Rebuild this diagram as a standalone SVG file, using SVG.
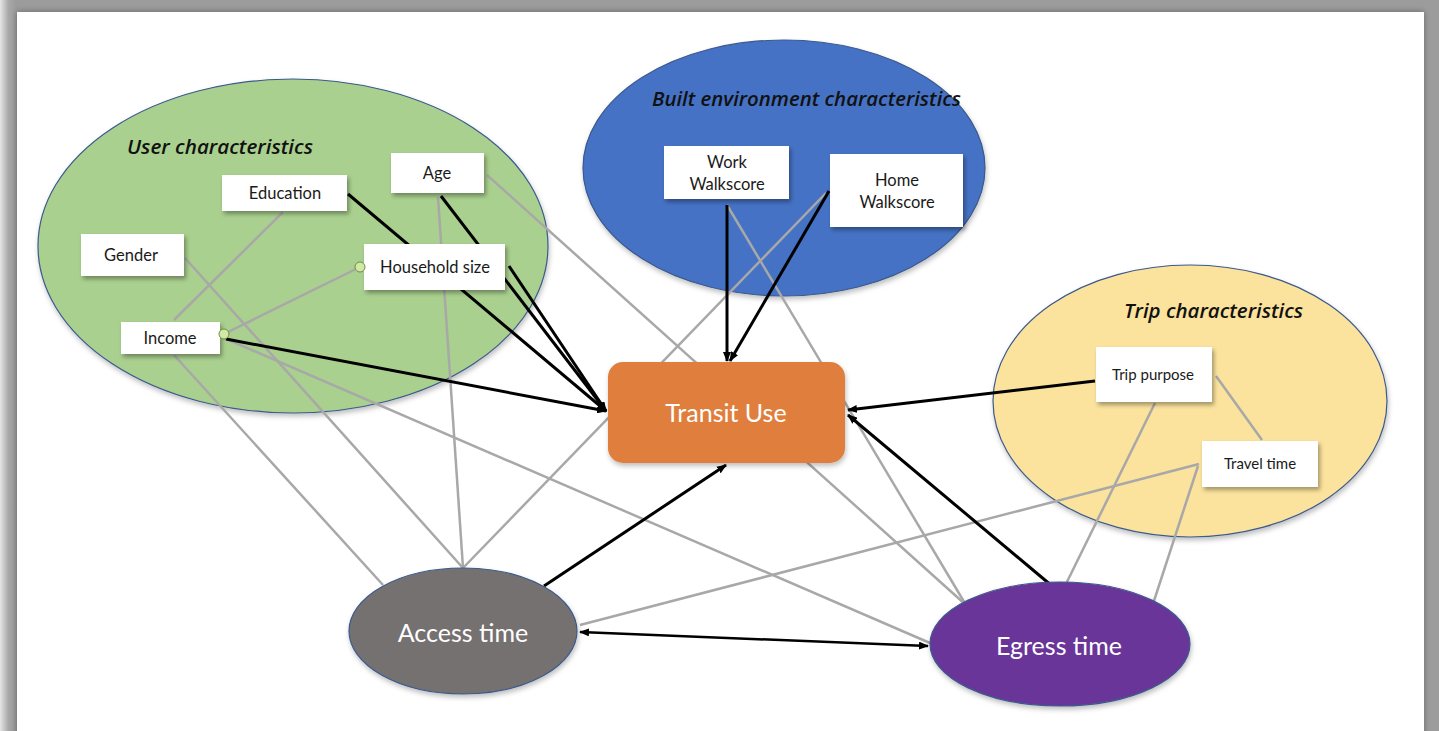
<svg xmlns="http://www.w3.org/2000/svg" width="1439" height="731" viewBox="0 0 1439 731">
  <defs>
    <linearGradient id="edgeL" x1="0" x2="1" y1="0" y2="0">
      <stop offset="0" stop-color="#e6e6e6"/>
      <stop offset="0.5" stop-color="#a8a8a8"/>
      <stop offset="1" stop-color="#9a9a9a"/>
    </linearGradient>
    <filter id="shadow" x="-20%" y="-20%" width="150%" height="160%">
      <feDropShadow dx="2" dy="3" stdDeviation="2" flood-color="#000" flood-opacity="0.35"/>
    </filter>
    <filter id="softShadow" x="-10%" y="-10%" width="120%" height="130%">
      <feDropShadow dx="1" dy="3" stdDeviation="2.5" flood-color="#000" flood-opacity="0.25"/>
    </filter>
    <filter id="frameShadow" x="-5%" y="-5%" width="110%" height="110%">
      <feGaussianBlur stdDeviation="3"/>
    </filter>
    <marker id="arrow" viewBox="0 0 10 8" refX="9" refY="4" markerWidth="10" markerHeight="8" markerUnits="userSpaceOnUse" orient="auto-start-reverse">
      <path d="M0,0 L10,4 L0,8 Z" fill="#000"/>
    </marker>
    <style>
      .group { stroke: #3b5a8c; stroke-width: 1.2; filter: url(#softShadow); }
      .title { font-family: "Open Sans", "Noto Sans", sans-serif; font-style: italic; font-weight: 600; font-size: 20px; fill: #111; }
      .box rect { fill: #ffffff; filter: url(#shadow); }
      .box text { font-family: Lato, "Noto Sans", sans-serif; font-size: 16.5px; fill: #1a1a1a; text-anchor: middle; dominant-baseline: central; }
      .box text.sm { font-size: 15px; }
      .big text { font-family: Lato, "Noto Sans", sans-serif; font-size: 25px; fill: #ffffff; text-anchor: middle; dominant-baseline: central; }
      .gray { stroke: #a8a8a8; stroke-width: 2.5; fill: none; }
      .dir { stroke: #000; stroke-width: 3; fill: none; marker-end: url(#arrow); }
      .both { marker-start: url(#arrow); stroke-width: 2.5; }
      .dot { fill: #d2e8a9; stroke: #6f8f3c; stroke-width: 1; }
    </style>
  </defs>

  <!-- page frame -->
  <rect x="0" y="0" width="1439" height="731" fill="#9c9c9c"/>
  <rect x="0" y="0" width="17" height="731" fill="url(#edgeL)"/>
  <rect x="17" y="12" width="1407" height="740" fill="#000" opacity="0.35" filter="url(#frameShadow)"/>
  <rect x="17" y="12" width="1407" height="740" fill="#ffffff"/>

  <!-- characteristic groups -->
  <g id="user-characteristics">
    <ellipse class="group" cx="293" cy="246" rx="255" ry="167" fill="#a9d08e"/>
    <text class="title" x="127" y="154" textLength="186" lengthAdjust="spacingAndGlyphs">User characteristics</text>
  </g>
  <g id="built-environment">
    <ellipse class="group" cx="784" cy="168" rx="201" ry="128" fill="#4472c4"/>
    <text class="title" x="652" y="106" textLength="309" lengthAdjust="spacingAndGlyphs">Built environment characteristics</text>
  </g>
  <g id="trip-characteristics">
    <ellipse class="group" cx="1190" cy="401" rx="197" ry="136" fill="#fbe29d"/>
    <text class="title" x="1124" y="318" textLength="179" lengthAdjust="spacingAndGlyphs">Trip characteristics</text>
  </g>

  <!-- connectors -->
  <g id="connectors">
    <!-- correlations -->
    <line class="gray" x1="283" y1="212" x2="174" y2="320"/>
    <line class="gray" x1="224" y1="334" x2="360" y2="267"/>
    <line class="gray" x1="185" y1="258" x2="463" y2="568"/>
    <line class="gray" x1="438" y1="197" x2="463" y2="568"/>
    <line class="gray" x1="174" y1="355" x2="383" y2="585"/>
    <line class="gray" x1="224" y1="338" x2="930" y2="643"/>
    <line class="gray" x1="487" y1="175" x2="966" y2="605"/>
    <line class="gray" x1="727" y1="205" x2="966" y2="605"/>
    <line class="gray" x1="826" y1="193" x2="463" y2="568"/>
    <line class="gray" x1="1155" y1="403" x2="1062" y2="592"/>
    <line class="gray" x1="1216" y1="376" x2="1262" y2="440"/>
    <line class="gray" x1="1199" y1="464" x2="580" y2="625"/>
    <line class="gray" x1="1198" y1="466" x2="1152" y2="607"/>
    <!-- direct effects -->
    <line class="dir" x1="226" y1="339" x2="606" y2="411"/>
    <line class="dir" x1="348" y1="194" x2="606" y2="411"/>
    <line class="dir" x1="441" y1="196" x2="606" y2="411"/>
    <line class="dir" x1="509" y1="266" x2="606" y2="411"/>
    <line class="dir" x1="727" y1="205" x2="727" y2="361"/>
    <line class="dir" x1="829" y1="191" x2="730" y2="361"/>
    <line class="dir" x1="1095" y1="381" x2="848" y2="410"/>
    <line class="dir" x1="1058" y1="591" x2="848" y2="415"/>
    <line class="dir" x1="544" y1="586" x2="726" y2="465"/>
    <line class="dir both" x1="580" y1="632" x2="928" y2="646"/>
  </g>

  <!-- variable boxes -->
  <g id="age" class="box"><rect x="391" y="153" width="93" height="40"/><text x="437" y="173">Age</text></g>
  <g id="education" class="box"><rect x="222" y="175" width="125" height="36"/><text x="285" y="193">Education</text></g>
  <g id="gender" class="box"><rect x="81" y="234" width="103" height="42"/><text x="131" y="255">Gender</text></g>
  <g id="household-size" class="box"><rect x="364" y="244" width="141" height="46"/><text x="435" y="267">Household size</text></g>
  <g id="income" class="box"><rect x="121" y="322" width="99" height="32"/><text x="170" y="338">Income</text></g>
  <g id="work-walkscore" class="box"><rect x="664" y="146" width="125" height="53"/><text x="727" y="162">Work</text><text x="727" y="184">Walkscore</text></g>
  <g id="home-walkscore" class="box"><rect x="830" y="154" width="133" height="73"/><text x="897" y="180">Home</text><text x="897" y="202">Walkscore</text></g>
  <g id="trip-purpose" class="box"><rect x="1096" y="347" width="116" height="55"/><text class="sm" x="1153" y="374">Trip purpose</text></g>
  <g id="travel-time" class="box"><rect x="1202" y="441" width="116" height="46"/><text class="sm" x="1260" y="463">Travel time</text></g>

  <!-- correlation end dots -->
  <circle class="dot" cx="224" cy="334" r="5"/>
  <circle class="dot" cx="360" cy="267" r="5"/>

  <!-- outcome nodes -->
  <g id="transit-use" class="big">
    <rect x="608" y="362" width="237" height="101" rx="15" fill="#e07e3c" filter="url(#softShadow)"/>
    <text x="726" y="412">Transit Use</text>
  </g>
  <g id="access-time" class="big">
    <ellipse cx="463" cy="631" rx="114" ry="63" fill="#767171" stroke="#3b5a8c" stroke-width="1.2" filter="url(#softShadow)"/>
    <text x="463" y="632">Access time</text>
  </g>
  <g id="egress-time" class="big">
    <ellipse cx="1060" cy="644" rx="130" ry="62" fill="#6a3699" stroke="#3b5a8c" stroke-width="1.2" filter="url(#softShadow)"/>
    <text x="1059" y="645">Egress time</text>
  </g>
</svg>
